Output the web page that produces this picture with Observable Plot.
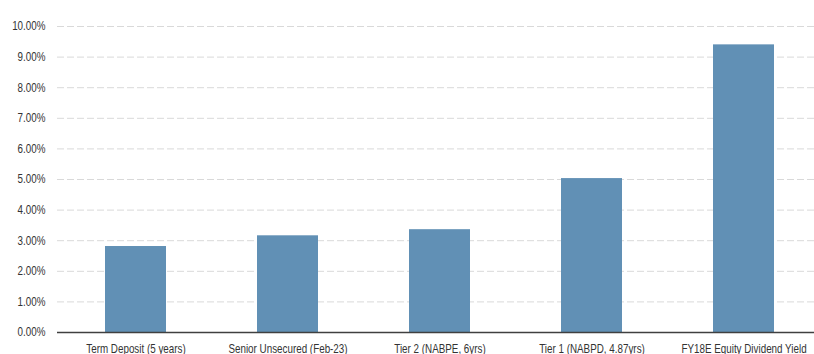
<!DOCTYPE html>
<html>
<head>
<meta charset="utf-8">
<script src="https://cdn.jsdelivr.net/npm/d3@7"></script>
<script src="https://cdn.jsdelivr.net/npm/@observablehq/plot@0.6"></script>
<style>
  html, body { margin: 0; padding: 0; background: #fff; }
  #chart svg { display: block; }
</style>
</head>
<body>
<div id="chart"></div>
<script>
const categories = [
  "Term Deposit (5 years)",
  "Senior Unsecured (Feb-23)",
  "Tier 2 (NABPE, 6yrs)",
  "Tier 1 (NABPD, 4.87yrs)",
  "FY18E Equity Dividend Yield"
];
const values = [2.81, 3.16, 3.36, 5.03, 9.40];
const yTicks = [0, 1, 2, 3, 4, 5, 6, 7, 8, 9, 10];

const data = categories.map((c, i) => ({category: c, value: values[i]}));
const font = "'Liberation Sans', Arial, sans-serif";

const chart = Plot.plot({
  width: 814,
  height: 354,
  marginLeft: 57,
  marginRight: 0,
  marginTop: 26,
  marginBottom: 22,
  style: {fontFamily: font, fontSize: "12px", color: "#333", background: "#fff"},
  x: {domain: categories, range: [57, 821], paddingInner: 0.6, paddingOuter: 0.3, label: null},
  y: {domain: [0, 10], label: null},
  marks: [
    Plot.ruleY(yTicks.filter(d => d > 0), {stroke: "#d9d9d9", strokeWidth: 1, strokeDasharray: "7,3"}),
    Plot.barY(data, {x: "category", y: "value", fill: "#6190b5"}),
    Plot.ruleY([0], {stroke: "#404040", strokeWidth: 1.5}),
    Plot.axisY(yTicks, {tickSize: 0, tickPadding: 12, tickFormat: d => d.toFixed(2) + "%", fontSize: 12}),
    Plot.axisX({tickSize: 0, tickPadding: 12, fontSize: 12})
  ]
});
// emulate a narrow (condensed) typeface by horizontally scaling the axis labels
chart.querySelectorAll("text").forEach(t => {
  const tr = t.getAttribute("transform") || "";
  t.setAttribute("transform", (tr + " scale(0.82,1)").trim());
});
document.getElementById("chart").appendChild(chart);
</script>
</body>
</html>
